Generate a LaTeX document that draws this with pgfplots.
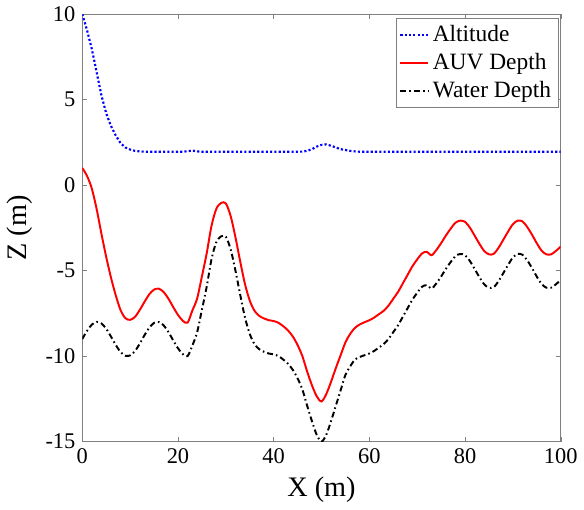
\documentclass[border=0pt]{standalone}
\usepackage{pgfplots}
\pgfplotsset{compat=1.18}
\usepackage{fontspec}
\setmainfont{Liberation Serif}

\begin{document}
\begin{tikzpicture}
\begin{axis}[
    scale only axis,
    width=244.5bp,
    height=218.5bp,
    xmin=0, xmax=100,
    ymin=-15, ymax=10,
    xtick={0,20,40,60,80,100},
    xticklabels={0,20,40,60,80,100},
    ytick={-15,-10,-5,0,5,10},
    yticklabels={-15,-10,-5,0,5,10},
    tick align=inside,
    major tick length=2.5bp,
    axis line style={black!50},
    tick style={black!50},
    ticklabel style={font=\fontsize{11.5}{11.5}\selectfont},
    xlabel={X (m)},
    ylabel={Z (m)},
    label style={font=\fontsize{14.5}{14.5}\selectfont},
    legend cell align=left,
    legend image code/.code={\draw[#1] (0bp,0bp) -- (14bp,0bp);},
    legend style={
        at={(0.995,0.99)},
        anchor=north east,
        draw=black!50,
        font=\fontsize{12}{13}\selectfont,
        inner sep=1.5bp,
        row sep=0.5bp
    }
]
\addplot[blue, line width=1.1pt, dash pattern=on 1.1pt off 1.1pt] coordinates {
    (0,10) (1,9.05) (2,7.95) (3,6.6) (4,5.25) (5,4.2) (6,3.45) (7,2.9)
    (8,2.45) (9,2.2) (10,2.08) (11,2.0) (12,1.97) (13,1.95) (21,1.95)
    (22,1.98) (23,2.02) (24,1.97) (25,1.95) (45,1.95) (46,1.96) (47,2.0)
    (48,2.1) (49,2.25) (50,2.35) (51,2.38) (52,2.3) (53,2.2) (54,2.1)
    (55,2.05) (56,2.0) (57,1.97) (58,1.95) (100,1.95)
};
\addlegendentry{Altitude}
\addplot[red, line width=1pt, smooth] coordinates {
    (0,1.0) (1,0.53) (2,-0.21) (3,-1.4) (4,-2.84) (5,-4.2) (6,-5.41)
    (7,-6.45) (8,-7.31) (9,-7.78) (10,-7.88) (11,-7.71) (12,-7.31)
    (13,-6.83) (14,-6.39) (15,-6.11) (16,-6.06) (17,-6.25) (18,-6.64)
    (19,-7.13) (20,-7.59) (21,-7.93) (22,-8.05) (23,-7.34) (24,-6.64)
    (25,-5.35) (26,-4.0) (27,-2.4) (28,-1.4) (29,-1.05) (30,-1.07)
    (31,-1.8) (32,-3.03) (33,-4.45) (34,-5.78) (35,-6.75) (36,-7.35)
    (37,-7.65) (38,-7.8) (39,-7.9) (40,-7.95) (41,-8.05) (42,-8.25)
    (43,-8.5) (44,-8.85) (45,-9.35) (46,-10.0) (47,-10.9) (48,-11.7)
    (49,-12.35) (50,-12.65) (51,-12.22) (52,-11.5) (53,-10.7) (54,-9.95)
    (55,-9.2) (56,-8.7) (57,-8.35) (58,-8.15) (59,-8.02) (60,-7.9)
    (61,-7.75) (62,-7.55) (63,-7.35) (64,-7.05) (65,-6.65) (66,-6.25)
    (67,-5.75) (68,-5.25) (69,-4.75) (70,-4.35) (71,-4.0) (72,-3.9)
    (73,-4.1) (74,-3.8) (75,-3.4) (76,-2.95) (77,-2.55) (78,-2.2)
    (79,-2.08) (80,-2.15) (81,-2.48) (82,-2.95) (83,-3.43) (84,-3.85)
    (85,-4.05) (86,-4.02) (87,-3.67) (88,-3.2) (89,-2.72) (90,-2.29)
    (91,-2.08) (92,-2.12) (93,-2.45) (94,-2.9) (95,-3.4) (96,-3.83)
    (97,-4.05) (98,-4.05) (99,-3.85) (100,-3.6)
};
\addlegendentry{AUV Depth}
\addplot[black, line width=1pt, smooth, dash pattern=on 3pt off 1.6pt on 0.8pt off 1.6pt] coordinates {
    (0,-9.0) (1,-8.52) (2,-8.16) (3,-8.0) (4,-8.09) (5,-8.4) (6,-8.86)
    (7,-9.35) (8,-9.76) (9,-9.98) (10,-9.96) (11,-9.71) (12,-9.28)
    (13,-8.78) (14,-8.34) (15,-8.06) (16,-8.01) (17,-8.2) (18,-8.59)
    (19,-9.08) (20,-9.54) (21,-9.88) (22,-10.0) (23,-9.39) (24,-8.61)
    (25,-7.3) (26,-5.95) (27,-4.35) (28,-3.35) (29,-3.0) (30,-3.02)
    (31,-3.75) (32,-4.98) (33,-6.4) (34,-7.73) (35,-8.7) (36,-9.3)
    (37,-9.6) (38,-9.75) (39,-9.85) (40,-9.9) (41,-10.0) (42,-10.2)
    (43,-10.45) (44,-10.8) (45,-11.3) (46,-11.95) (47,-12.9) (48,-13.8)
    (49,-14.6) (50,-15.0) (51,-14.6) (52,-13.8) (53,-12.9) (54,-12.0)
    (55,-11.1) (56,-10.6) (57,-10.2) (58,-10.05) (59,-9.95) (60,-9.85)
    (61,-9.7) (62,-9.5) (63,-9.3) (64,-9.0) (65,-8.6) (66,-8.2)
    (67,-7.7) (68,-7.2) (69,-6.7) (70,-6.3) (71,-5.95) (72,-5.85)
    (73,-6.05) (74,-5.75) (75,-5.35) (76,-4.9) (77,-4.5) (78,-4.15)
    (79,-4.03) (80,-4.1) (81,-4.43) (82,-4.9) (83,-5.38) (84,-5.8)
    (85,-6.0) (86,-5.97) (87,-5.62) (88,-5.15) (89,-4.67) (90,-4.24)
    (91,-4.03) (92,-4.07) (93,-4.4) (94,-4.85) (95,-5.35) (96,-5.78)
    (97,-6.0) (98,-6.0) (99,-5.8) (100,-5.55)
};
\addlegendentry{Water Depth}
\end{axis}
\end{tikzpicture}
\end{document}
